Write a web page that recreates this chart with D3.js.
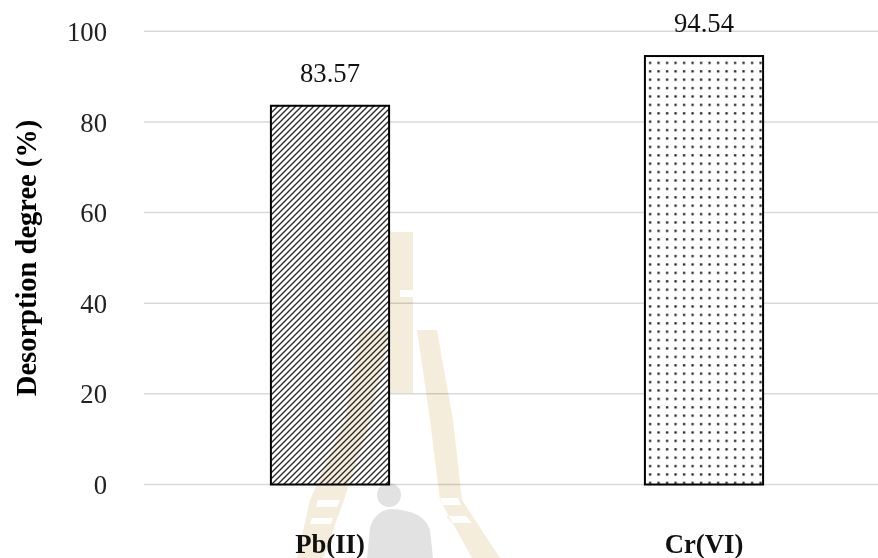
<!DOCTYPE html>
<html>
<head>
<meta charset="utf-8">
<script src="https://cdn.jsdelivr.net/npm/d3@7"></script>
<style>
  html, body { margin: 0; padding: 0; background: #fff; }
  svg { display: block; }
  text { font-family: "Liberation Serif", "Times New Roman", serif; }
</style>
</head>
<body>
<svg id="chart" width="878" height="558"></svg>
<script>
// Desorption degree per metal ion
const categories = ["Pb(II)", "Cr(VI)"];
const values = [83.57, 94.54];
const valueLabels = ["83.57", "94.54"];
const yTicks = [0, 20, 40, 60, 80, 100];
const yTitle = "Desorption degree (%)";

const W = 878, H = 558;
const svg = d3.select("#chart");

const x = d3.scaleBand()
  .domain(categories)
  .range([143, 891])
  .paddingInner(0.684)
  .paddingOuter(0.342);

const y = d3.scaleLinear().domain([0, 100]).range([484.5, 31.3]);

// fill patterns: diagonal hatch and dot grid
const defs = svg.append("defs");
const hatch = defs.append("pattern")
  .attr("id", "hatch").attr("patternUnits", "userSpaceOnUse")
  .attr("width", 6).attr("height", 6);
hatch.append("rect").attr("width", 6).attr("height", 6).attr("fill", "#fff");
hatch.append("path")
  .attr("d", "M-1,7 L7,-1 M-4,4 L4,-4 M2,10 L10,2")
  .attr("stroke", "#2a2a2a").attr("stroke-width", 1.35);

const dots = defs.append("pattern")
  .attr("id", "dots").attr("patternUnits", "userSpaceOnUse")
  .attr("width", 8.5).attr("height", 8.4);
dots.append("rect").attr("width", 8.5).attr("height", 8.4).attr("fill", "#fff");
dots.append("rect").attr("x", 3).attr("y", 3).attr("width", 2.2).attr("height", 2.2).attr("fill", "#111");

const fills = ["url(#hatch)", "url(#dots)"];

// horizontal gridlines
svg.append("g").selectAll("line")
  .data(yTicks).join("line")
  .attr("x1", 144).attr("x2", W)
  .attr("y1", d => y(d)).attr("y2", d => y(d))
  .attr("stroke", "#d9d9d9").attr("stroke-width", 1.5);

// y axis tick labels
const yAxis = d3.axisLeft(y).tickValues(yTicks).tickSize(0).tickPadding(0);
const gy = svg.append("g").attr("transform", "translate(107,0)").call(yAxis);
gy.select(".domain").remove();
gy.selectAll("text")
  .attr("font-family", "'Liberation Serif', 'Times New Roman', serif")
  .attr("font-size", 26.7).attr("fill", "#222").attr("dy", "0.34em");

// y axis title
svg.append("text")
  .attr("transform", `translate(36,${(y(0) + y(100)) / 2}) rotate(-90)`)
  .attr("text-anchor", "middle")
  .attr("font-size", 28.5).attr("font-weight", "bold").attr("fill", "#000")
  .text(yTitle);

// bars
svg.append("g").selectAll("rect")
  .data(values).join("rect")
  .attr("x", (d, i) => x(categories[i]))
  .attr("y", d => y(d))
  .attr("width", x.bandwidth())
  .attr("height", d => y(0) - y(d))
  .attr("fill", (d, i) => fills[i])
  .attr("stroke", "#000").attr("stroke-width", 2);

// value labels above bars
svg.append("g").selectAll("text")
  .data(values).join("text")
  .attr("x", (d, i) => x(categories[i]) + x.bandwidth() / 2)
  .attr("y", d => y(d) - 24)
  .attr("text-anchor", "middle")
  .attr("font-size", 26.7).attr("fill", "#111")
  .text((d, i) => valueLabels[i]);

// category labels
svg.append("g").selectAll("text")
  .data(categories).join("text")
  .attr("x", d => x(d) + x.bandwidth() / 2)
  .attr("y", 553)
  .attr("text-anchor", "middle")
  .attr("font-size", 26.7).attr("font-weight", "bold").attr("fill", "#111")
  .text(d => d);

// faint page watermark: ladder emblem with figure
const wm = svg.append("g").style("mix-blend-mode", "multiply");
const gold = "#f5eddb";
wm.append("path").attr("fill", gold)
  .attr("d", "M388,232 L413,232 L413,290 L400,290 L400,297 L413,297 L413,393 L388,393 Z");
wm.append("path").attr("fill", gold).attr("fill-rule", "evenodd")
  .attr("d", "M360,330 L390,330 L370,420 L344,500 L323,558 L297,558 L310,500 L345,420 Z " +
             "M318,500 L340,500 L337,507 L316,507 Z M312,518 L333,518 L331,524 L310,524 Z");
wm.append("path").attr("fill", gold).attr("fill-rule", "evenodd")
  .attr("d", "M417,330 L437,330 L453,420 L462,500 L500,558 L472,558 L440,500 L430,420 Z " +
             "M440,498 L458,498 L461,505 L443,505 Z M446,516 L466,516 L472,523 L452,523 Z");
wm.append("circle").attr("cx", 389).attr("cy", 495).attr("r", 12).attr("fill", "#e2e2e2");
wm.append("path").attr("fill", "#e2e2e2")
  .attr("d", "M367,558 L370,528 Q374,512 390,509 Q424,510 430,530 L433,558 Z");
</script>
</body>
</html>
